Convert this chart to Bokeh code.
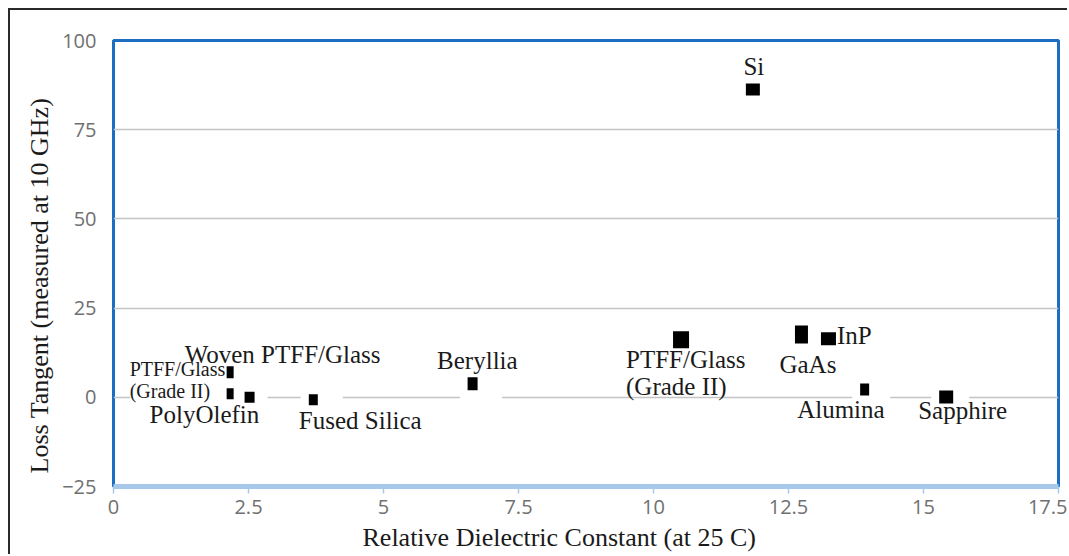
from bokeh.plotting import figure
from bokeh.models import Range1d, FixedTicker, Label, Title
from bokeh.embed import file_html
from bokeh.resources import INLINE

# ---- data ----
materials = ["Si", "Woven PTFF/Glass", "PTFF/Glass\n(Grade II)", "PolyOlefin",
             "Fused Silica", "Beryllia", "PTFF/Glass\n(Grade II)", "GaAs", "InP",
             "Alumina", "Sapphire"]
dielectric = [11.84, 2.16, 2.16, 2.52, 3.70, 6.65, 10.51, 12.74, 13.24, 13.91, 15.42]
loss_tangent = [86.3, 7.0, 1.0, 0.0, -0.7, 3.8, 16.1, 17.6, 16.4, 2.2, 0.1]

x_ticks = [0, 2.5, 5, 7.5, 10, 12.5, 15, 17.5]
x_tick_labels = ["0", "2.5", "5", "7.5", "10", "12.5", "15", "17.5"]
y_ticks = [-25, 0, 25, 50, 75, 100]
y_tick_labels = ["\u221225", "0", "25", "50", "75", "100"]

x_title = "Relative Dielectric Constant (at 25 C)"
y_title = "Loss Tangent (measured at 10 GHz)"

# ---- styles ----
W, H = 1059, 546
FRAME_L, FRAME_R = 103, 1048          # canvas px
marker_w = [14, 7, 7, 10, 9, 10, 16, 13, 15, 9, 14]
marker_h = [12, 12, 11, 11, 11, 13, 17, 18, 13, 12, 13]
# (x_offset, y_offset, align, baseline, size)
label_style = [
    (1, 23, "center", "alphabetic", 25),
    (-45.5, 18, "left", "alphabetic", 25),
    (-100.5, 35.5, "left", "top", 20),
    (-100, -17.5, "left", "alphabetic", 25),
    (-14.5, -20.5, "left", "alphabetic", 25),
    (-35.5, 23.5, "left", "alphabetic", 25),
    (-55, -6.5, "left", "top", 25),
    (-22, -30, "left", "alphabetic", 25),
    (8.5, 3.5, "left", "alphabetic", 25),
    (-67.5, -20, "left", "alphabetic", 25),
    (-28, -13.5, "left", "alphabetic", 25),
]
# white gaps in the zero grid line: (offset px from marker, width px) or None
gap_style = [None, None, (-46, 108), (1, 34), (8.5, 42), (8.5, 42),
             None, None, None, (6.5, 38), (4, 38)]

SERIF = "Liberation Serif"
SANS = "Open Sans"
BLUE = "#1b6ec2"
LIGHT_BLUE = "#a6c8ea"

x_lo, x_hi = 0, 17.5
p = figure(width=W, height=H, output_backend="svg", toolbar_location=None,
           x_range=Range1d(x_lo, x_hi), y_range=Range1d(-25, 100),
           min_border_left=FRAME_L, min_border_right=W - FRAME_R, min_border_top=30,
           min_border_bottom=70)
p.styles = {"margin-top": "8px", "margin-left": "8px",
            "border-top": "2px solid #2a2a2a", "border-left": "2px solid #2a2a2a"}

p.outline_line_color = BLUE
p.outline_line_width = 3

p.xgrid.grid_line_color = None
p.ygrid.ticker = FixedTicker(ticks=[0, 25, 50, 75])
p.ygrid.grid_line_color = "#c4c4c4"
p.ygrid.grid_line_width = 1.5

# x axis
p.xaxis.ticker = FixedTicker(ticks=x_ticks)
p.xaxis.major_label_overrides = dict(zip(x_ticks, x_tick_labels))
p.xaxis.axis_line_color = LIGHT_BLUE
p.xaxis.axis_line_width = 5
p.xaxis.major_tick_line_color = LIGHT_BLUE
p.xaxis.major_tick_line_width = 1.5
p.xaxis.major_tick_out = 7
p.xaxis.major_tick_in = 0
p.xaxis.minor_tick_line_color = None
p.xaxis.major_label_text_font = SANS
p.xaxis.major_label_text_font_size = "20px"
p.xaxis.major_label_text_color = "#707070"
p.xaxis.major_label_text_align = "right"
p.xaxis.major_label_standoff = 6

# y axis
p.yaxis.ticker = FixedTicker(ticks=y_ticks)
p.yaxis.major_label_overrides = dict(zip(y_ticks, y_tick_labels))
p.yaxis.axis_line_color = None
p.yaxis.major_tick_line_color = None
p.yaxis.minor_tick_line_color = None
p.yaxis.major_label_text_font = SANS
p.yaxis.major_label_text_font_size = "20px"
p.yaxis.major_label_text_color = "#707070"
p.yaxis.major_label_standoff = 11

# axis titles
p.add_layout(Title(text=x_title, align="left", offset=249, text_font=SERIF,
                   text_font_size="26px", text_font_style="normal",
                   text_color="#1a1a1a", standoff=8), "below")
p.add_layout(Title(text=y_title, align="left", offset=13, text_font=SERIF,
                   text_font_size="26px", text_font_style="normal",
                   text_color="#1a1a1a", standoff=12), "left")

# white gaps in the zero grid line under the near-zero labels
px_per_unit = (FRAME_R - FRAME_L) / (x_hi - x_lo)
gx, gy, gw = [], [], []
for x, g in zip(dielectric, gap_style):
    if g:
        gx.append(x + g[0] / px_per_unit)
        gy.append(0)
        gw.append(g[1])
p.rect(gx, gy, width=gw, height=6, width_units="screen", height_units="screen",
       fill_color="white", line_color=None)

# markers
p.rect(dielectric, loss_tangent, width=marker_w, height=marker_h,
       width_units="screen", height_units="screen",
       fill_color="black", line_color=None)

# point labels
for name, x, y, st in zip(materials, dielectric, loss_tangent, label_style):
    xo, yo, al, bl, fs = st
    p.add_layout(Label(x=x, y=y, text=name, x_offset=xo, y_offset=yo,
                       text_align=al, text_baseline=bl, text_font=SERIF,
                       text_font_size=f"{fs}px", text_color="#1a1a1a",
                       text_line_height=1.0))

open("out.html", "w").write(file_html(p, INLINE))
